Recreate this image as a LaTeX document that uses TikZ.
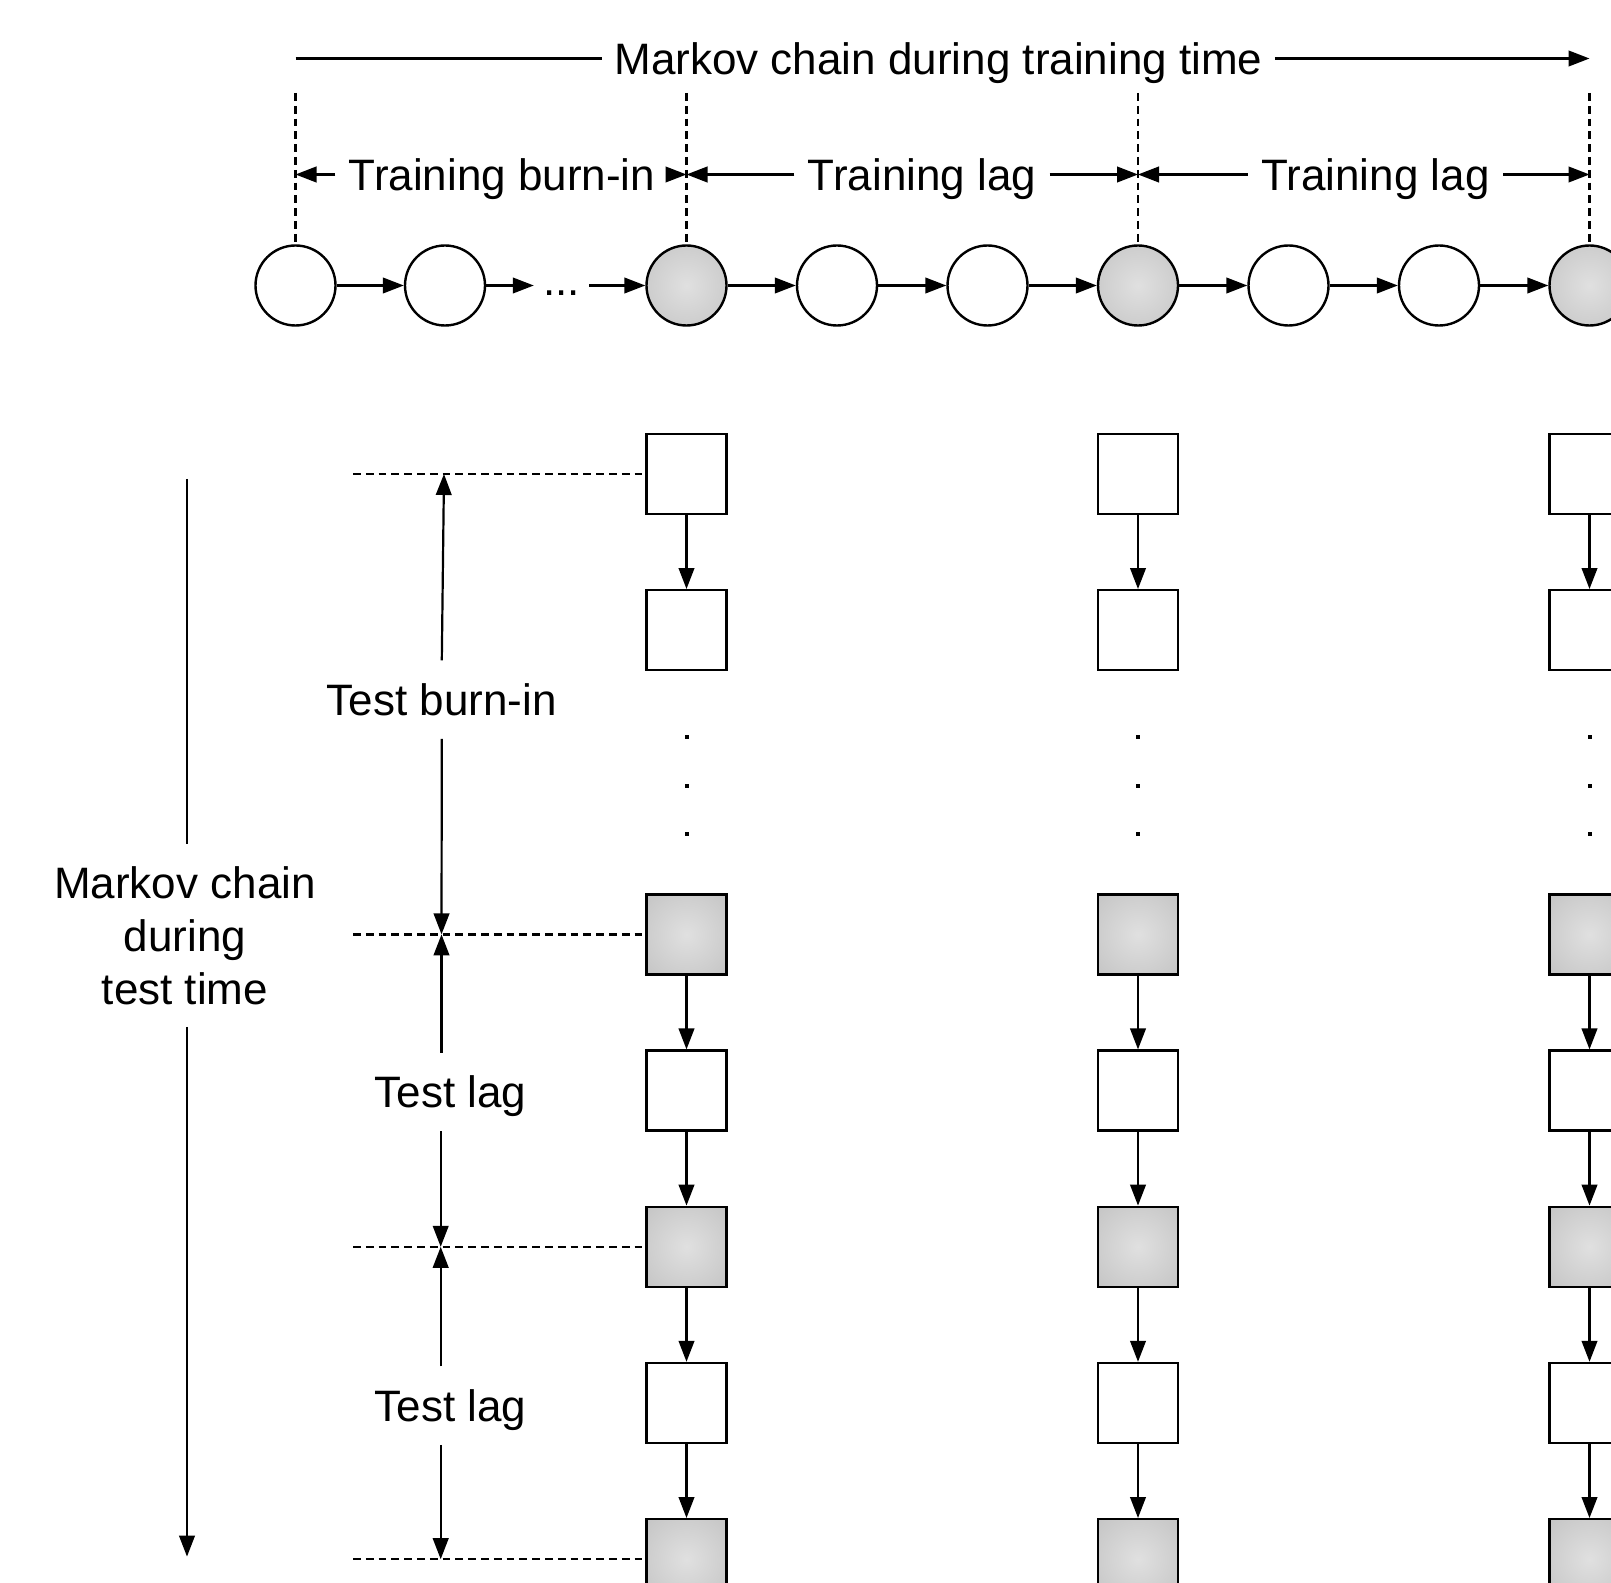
\documentclass[tikz,border=0pt]{standalone}
\usepackage{fontspec}
\setmainfont{Liberation Sans}
\usetikzlibrary{arrows.meta}

\definecolor{shadein}{RGB}{224,224,224}
\definecolor{shadeout}{RGB}{186,186,186}
\pgfdeclareradialshading{softball}{\pgfpoint{0bp}{0bp}}{%
  color(0bp)=(shadein); color(50bp)=(shadeout); color(72bp)=(shadeout)}

\tikzset{
  every node/.style={font=\fontsize{22}{26.5}\selectfont},
  chainnode/.style={circle, draw, line width=1.2pt, minimum size=40pt, inner sep=0pt, fill=white},
  keptnode/.style={chainnode, shading=softball},
  cell/.style={rectangle, draw, line width=1.2pt, minimum size=40pt, inner sep=0pt, fill=white},
  keptcell/.style={cell, shading=softball},
  flow/.style={line width=1.1pt, -{Triangle[length=10.5pt,width=7.8pt]}},
  guide/.style={line width=1.1pt, dash pattern=on 3.9pt off 2.5pt},
  caption/.style={inner xsep=6.5pt, inner ysep=7.5pt, text height=19.8pt, text depth=4.05pt},
  pip/.style={rectangle, fill=black, minimum size=2pt, inner sep=0pt},
}

\begin{document}
\begin{tikzpicture}[x=0.5pt, y=-0.5pt]
\useasboundingbox (0,0) rectangle (1611,1583);

% ---- training chain ----
\node[chainnode] (c1) at (295.5,285.5) {};
\node[chainnode] (c2) at (445,285.5) {};
\node[inner xsep=4.5pt, inner ysep=0pt, anchor=base] (dots) at (561.5,296) {...};
\node[keptnode]  (c3) at (686.5,285.5) {};
\node[chainnode] (c4) at (837,285.5) {};
\node[chainnode] (c5) at (987.5,285.5) {};
\node[keptnode]  (c6) at (1138,285.5) {};
\node[chainnode] (c7) at (1288.5,285.5) {};
\node[chainnode] (c8) at (1439,285.5) {};
\node[keptnode]  (c9) at (1589.5,285.5) {};

\draw[flow] (c1) -- (c2);
\draw[flow] (c2) -- (dots.west |- c2);
\draw[flow] (dots.east |- c3) -- (c3);
\draw[flow] (c3) -- (c4);
\draw[flow] (c4) -- (c5);
\draw[flow] (c5) -- (c6);
\draw[flow] (c6) -- (c7);
\draw[flow] (c7) -- (c8);
\draw[flow] (c8) -- (c9);

% dashed guides above the kept samples
\coordinate (t0) at (295.5,93);
\coordinate (t1) at (686.5,93);
\coordinate (t2) at (1138,93);
\coordinate (t3) at (1589.5,93);
\draw[guide] (t0) -- (c1.north);
\draw[guide] (t1) -- (c3.north);
\draw[guide] (t2) -- (c6.north);
\draw[guide] (t3) -- (c9.north);

% overall training-time arrow
\node[caption, inner xsep=6pt] (train) at (938.5,58.5) {Markov chain during training time};
\coordinate (tr0) at (295.5,58.5);
\coordinate (tr1) at (1589.5,58.5);
\draw[line width=1.1pt] (tr0) -- (train.west);
\draw[flow] (train.east) -- (tr1);

% burn-in and lag spans
\node[caption] (burn) at (502,174.5) {Training burn-in};
\node[caption] (lag1) at (922,174.5) {Training lag};
\node[caption] (lag2) at (1375.5,174.5) {Training lag};
\draw[flow] (burn.west) -- (burn.west -| t0);
\draw[flow] (burn.east) -- (burn.east -| t1);
\draw[flow] (lag1.west) -- (lag1.west -| t1);
\draw[flow] (lag1.east) -- (lag1.east -| t2);
\draw[flow] (lag2.west) -- (lag2.west -| t2);
\draw[flow] (lag2.east) -- (lag2.east -| t3);

% ---- test chains, one per kept training sample ----
\foreach \col/\x in {a/686.5, b/1138, c/1589.5} {
  \node[cell]     (\col1) at (\x,474) {};
  \node[cell]     (\col2) at (\x,630.2) {};
  \node[pip]      (\col d1) at (\x,737) {};
  \node[pip]      (\col d2) at (\x,785.5) {};
  \node[pip]      (\col d3) at (\x,834) {};
  \node[keptcell] (\col3) at (\x,934.4) {};
  \node[cell]     (\col4) at (\x,1090.6) {};
  \node[keptcell] (\col5) at (\x,1246.8) {};
  \node[cell]     (\col6) at (\x,1403) {};
  \node[keptcell] (\col7) at (\x,1559.2) {};
  \draw[flow] (\col1) -- (\col2);
  \draw[flow] (\col3) -- (\col4);
  \draw[flow] (\col4) -- (\col5);
  \draw[flow] (\col5) -- (\col6);
  \draw[flow] (\col6) -- (\col7);
}

% dashed reference lines at the kept test samples
\coordinate (m1) at (444,474);
\coordinate (m3) at (441.5,934.4);
\coordinate (m5) at (440.7,1246.8);
\coordinate (m7) at (440.7,1559.2);
\coordinate (g1) at (353,474);
\coordinate (g3) at (353,934.4);
\coordinate (g5) at (353,1246.8);
\coordinate (g7) at (353,1559.2);
\draw[guide] (g1) -- (a1.west);
\draw[guide] (g3) -- (a3.west);
\draw[guide] (g5) -- (a5.west);
\draw[guide] (g7) -- (a7.west);

% test burn-in and lag spans
\node[caption] (tburn) at (441.8,699.7) {Test burn-in};
\node[caption] (tlag1) at (450.6,1092) {Test lag};
\node[caption] (tlag2) at (450.6,1405.5) {Test lag};
\draw[flow] (tburn.north) -- (m1);
\draw[flow] (tburn.south) -- (m3);
\draw[flow] (tlag1.north -| m3) -- (m3);
\draw[flow] (tlag1.south -| m5) -- (m5);
\draw[flow] (tlag2.north -| m5) -- (m5);
\draw[flow] (tlag2.south -| m7) -- (m7);

% overall test-time arrow
\node[align=center, inner xsep=0pt, inner ysep=11pt] (testtime) at (185,935.3)
  {Markov chain\\during\\test time};
\coordinate (tt0) at (187,478.8);
\coordinate (tt1) at (187,1556.6);
\draw[line width=1.1pt] (tt0) -- (testtime.north -| tt0);
\draw[flow] (testtime.south -| tt0) -- (tt1);
\end{tikzpicture}
\end{document}
